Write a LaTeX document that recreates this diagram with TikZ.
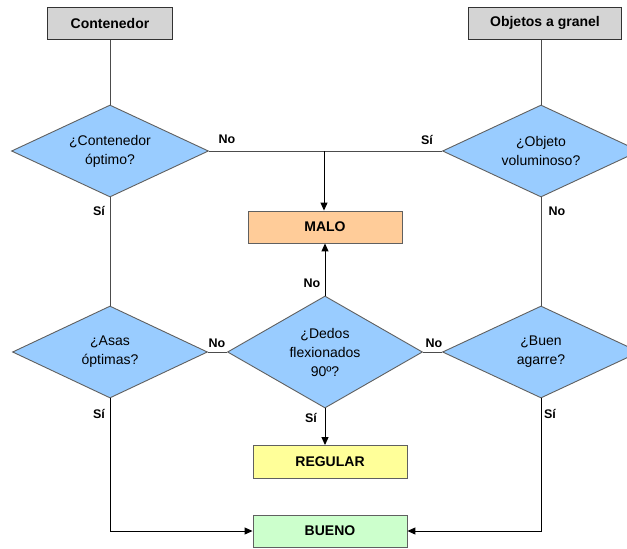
\documentclass[tikz,border=0pt]{standalone}
\usepackage{fontspec}
\setmainfont{Liberation Sans}
\usetikzlibrary{shapes.geometric,arrows.meta}
\definecolor{boxgray}{HTML}{D4D4D4}
\definecolor{dia}{HTML}{99CCFF}
\definecolor{malo}{HTML}{FFCC99}
\definecolor{regular}{HTML}{FFFF99}
\definecolor{bueno}{HTML}{CCFFCC}
\definecolor{edge}{HTML}{606060}
\tikzset{
  startbox/.style={draw=black!80, line width=1pt, fill=boxgray, minimum height=32pt, inner sep=0pt, font=\fontsize{14}{16}\selectfont\bfseries},
  resbox/.style={draw=edge, line width=0.9pt, minimum width=154pt, minimum height=32pt, inner sep=0pt, font=\fontsize{14}{16}\selectfont\bfseries},
  decision/.style={diamond, draw=edge, line width=0.9pt, fill=dia, inner sep=0pt, align=center, font=\fontsize{14}{19}\selectfont},
  lbl/.style={font=\fontsize{12.5}{14}\selectfont\bfseries, inner sep=0pt},
  conn/.style={draw=black!70, line width=1pt},
  arr/.style={draw=black, line width=1pt, -{Triangle[length=8pt,width=7pt]}}
}
\begin{document}
\begin{tikzpicture}[x=1pt,y=-1pt]
\useasboundingbox (0,0) rectangle (627,549);
\clip (0,0) rectangle (627,549);
\fill[white] (0,0) rectangle (627,549);

\node[startbox, minimum width=125pt] (cont) at (110,23) {Contenedor};
\node[startbox, minimum width=153pt] (obj) at (545,23) {Objetos a granel};

\node[decision, shape aspect=2.14, minimum width=197pt, minimum height=92pt] (dcont) at (110,151) {¿Contenedor\\óptimo?};
\node[decision, shape aspect=2.14, minimum width=197pt, minimum height=92pt] (dobj) at (541,151) {¿Objeto\\voluminoso?};
\node[decision, shape aspect=2.12, minimum width=195pt, minimum height=92pt] (dasas) at (110,352) {¿Asas\\óptimas?};
\node[decision, shape aspect=1.74, minimum width=195pt, minimum height=112pt] (ddedos) at (325,352) {¿Dedos\\flexionados\\90º?};
\node[decision, shape aspect=2.14, minimum width=197pt, minimum height=92pt] (dbuen) at (541,352) {¿Buen\\agarre?};

\node[resbox, fill=malo] (malo) at (325,227) {MALO};
\node[resbox, fill=regular, minimum height=33pt] (reg) at (330,462) {REGULAR};
\node[resbox, fill=bueno] (bueno) at (330,531) {BUENO};

\coordinate (j) at (324,151);

% connectors
\draw[conn] (cont.south) -- (dcont.north);
\draw[conn] (obj.south -| dobj.north) -- (dobj.north);
\draw[conn] (dcont.east) -- (dobj.west);
\draw[arr] (j) -- (j |- malo.north);
\draw[conn] (dcont.south) -- (dasas.north);
\draw[conn] (dobj.south) -- (dbuen.north);
\draw[conn] (dasas.east) -- (ddedos.west);
\draw[conn] (ddedos.east) -- (dbuen.west);
\draw[arr] (ddedos.north) -- (ddedos.north |- malo.south);
\draw[arr] (ddedos.south) -- (ddedos.south |- reg.north);
\draw[arr] (dasas.south) |- (bueno.west);
\draw[arr] (dbuen.south) |- (bueno.east);

% labels
\node[lbl] (l1) at (227,139) {No};
\node[lbl] (l2) at (427,140) {Sí};
\node[lbl] (l3) at (99,211) {Sí};
\node[lbl] (l4) at (557,211) {No};
\node[lbl] (l5) at (312,283) {No};
\node[lbl] (l6) at (217,343) {No};
\node[lbl] (l7) at (434,343) {No};
\node[lbl] (l8) at (99,414) {Sí};
\node[lbl] (l9) at (311,418) {Sí};
\node[lbl] (l10) at (550,414) {Sí};
\end{tikzpicture}
\end{document}
